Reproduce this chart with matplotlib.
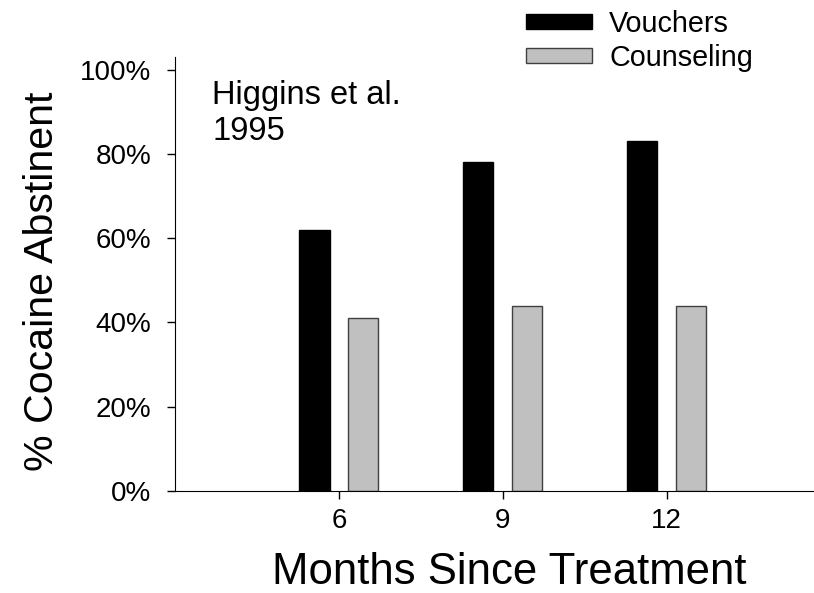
import matplotlib
matplotlib.use('Agg')
import matplotlib.pyplot as plt
import numpy as np

plt.rcParams['font.family'] = ['Liberation Sans', 'DejaVu Sans']

months = [6, 9, 12]
vouchers = [62, 78, 83]
counseling = [41, 44, 44]
y_ticks = [0, 20, 40, 60, 80, 100]
y_tick_labels = ['0%', '20%', '40%', '60%', '80%', '100%']

fig = plt.figure(figsize=(8.14, 5.93), dpi=100)
ax = fig.add_axes([0.215, 0.172, 0.785, 0.732])

x = np.array(months, dtype=float)
ax.bar(x - 0.45, vouchers, width=0.56, color='black', edgecolor='black',
       linewidth=1, label='Vouchers')
ax.bar(x + 0.45, counseling, width=0.55, color='#c0c0c0', edgecolor='#404040',
       linewidth=1, label='Counseling')

ax.set_xlim(3, 14.7)
ax.set_ylim(0, 103)
ax.set_xticks(months)
ax.set_xticklabels([str(m) for m in months])
ax.set_yticks(y_ticks)
ax.set_yticklabels(y_tick_labels)
ax.tick_params(axis='x', labelsize=20, length=6, width=1, pad=6)
ax.tick_params(axis='y', labelsize=20, length=6, width=1, pad=11)

for s in ['top', 'right']:
    ax.spines[s].set_visible(False)

ax.set_xlabel('Months Since Treatment', fontsize=31.5, labelpad=13.5)
ax.xaxis.label.set_x(0.5235)
ax.set_ylabel('% Cocaine Abstinent', fontsize=29.6)
ax.yaxis.set_label_coords(-0.179, 0.483)

ax.text(0.058, 0.947, 'Higgins et al.\n1995', transform=ax.transAxes,
        fontsize=23.5, va='top', ha='left', linespacing=1.22)

fig.legend(loc='upper left', bbox_to_anchor=(0.614, 1.027), frameon=False,
           fontsize=20.7, handlelength=2.3, handleheight=0.45,
           handletextpad=0.6, labelspacing=0.2)

plt.savefig('out.png')
